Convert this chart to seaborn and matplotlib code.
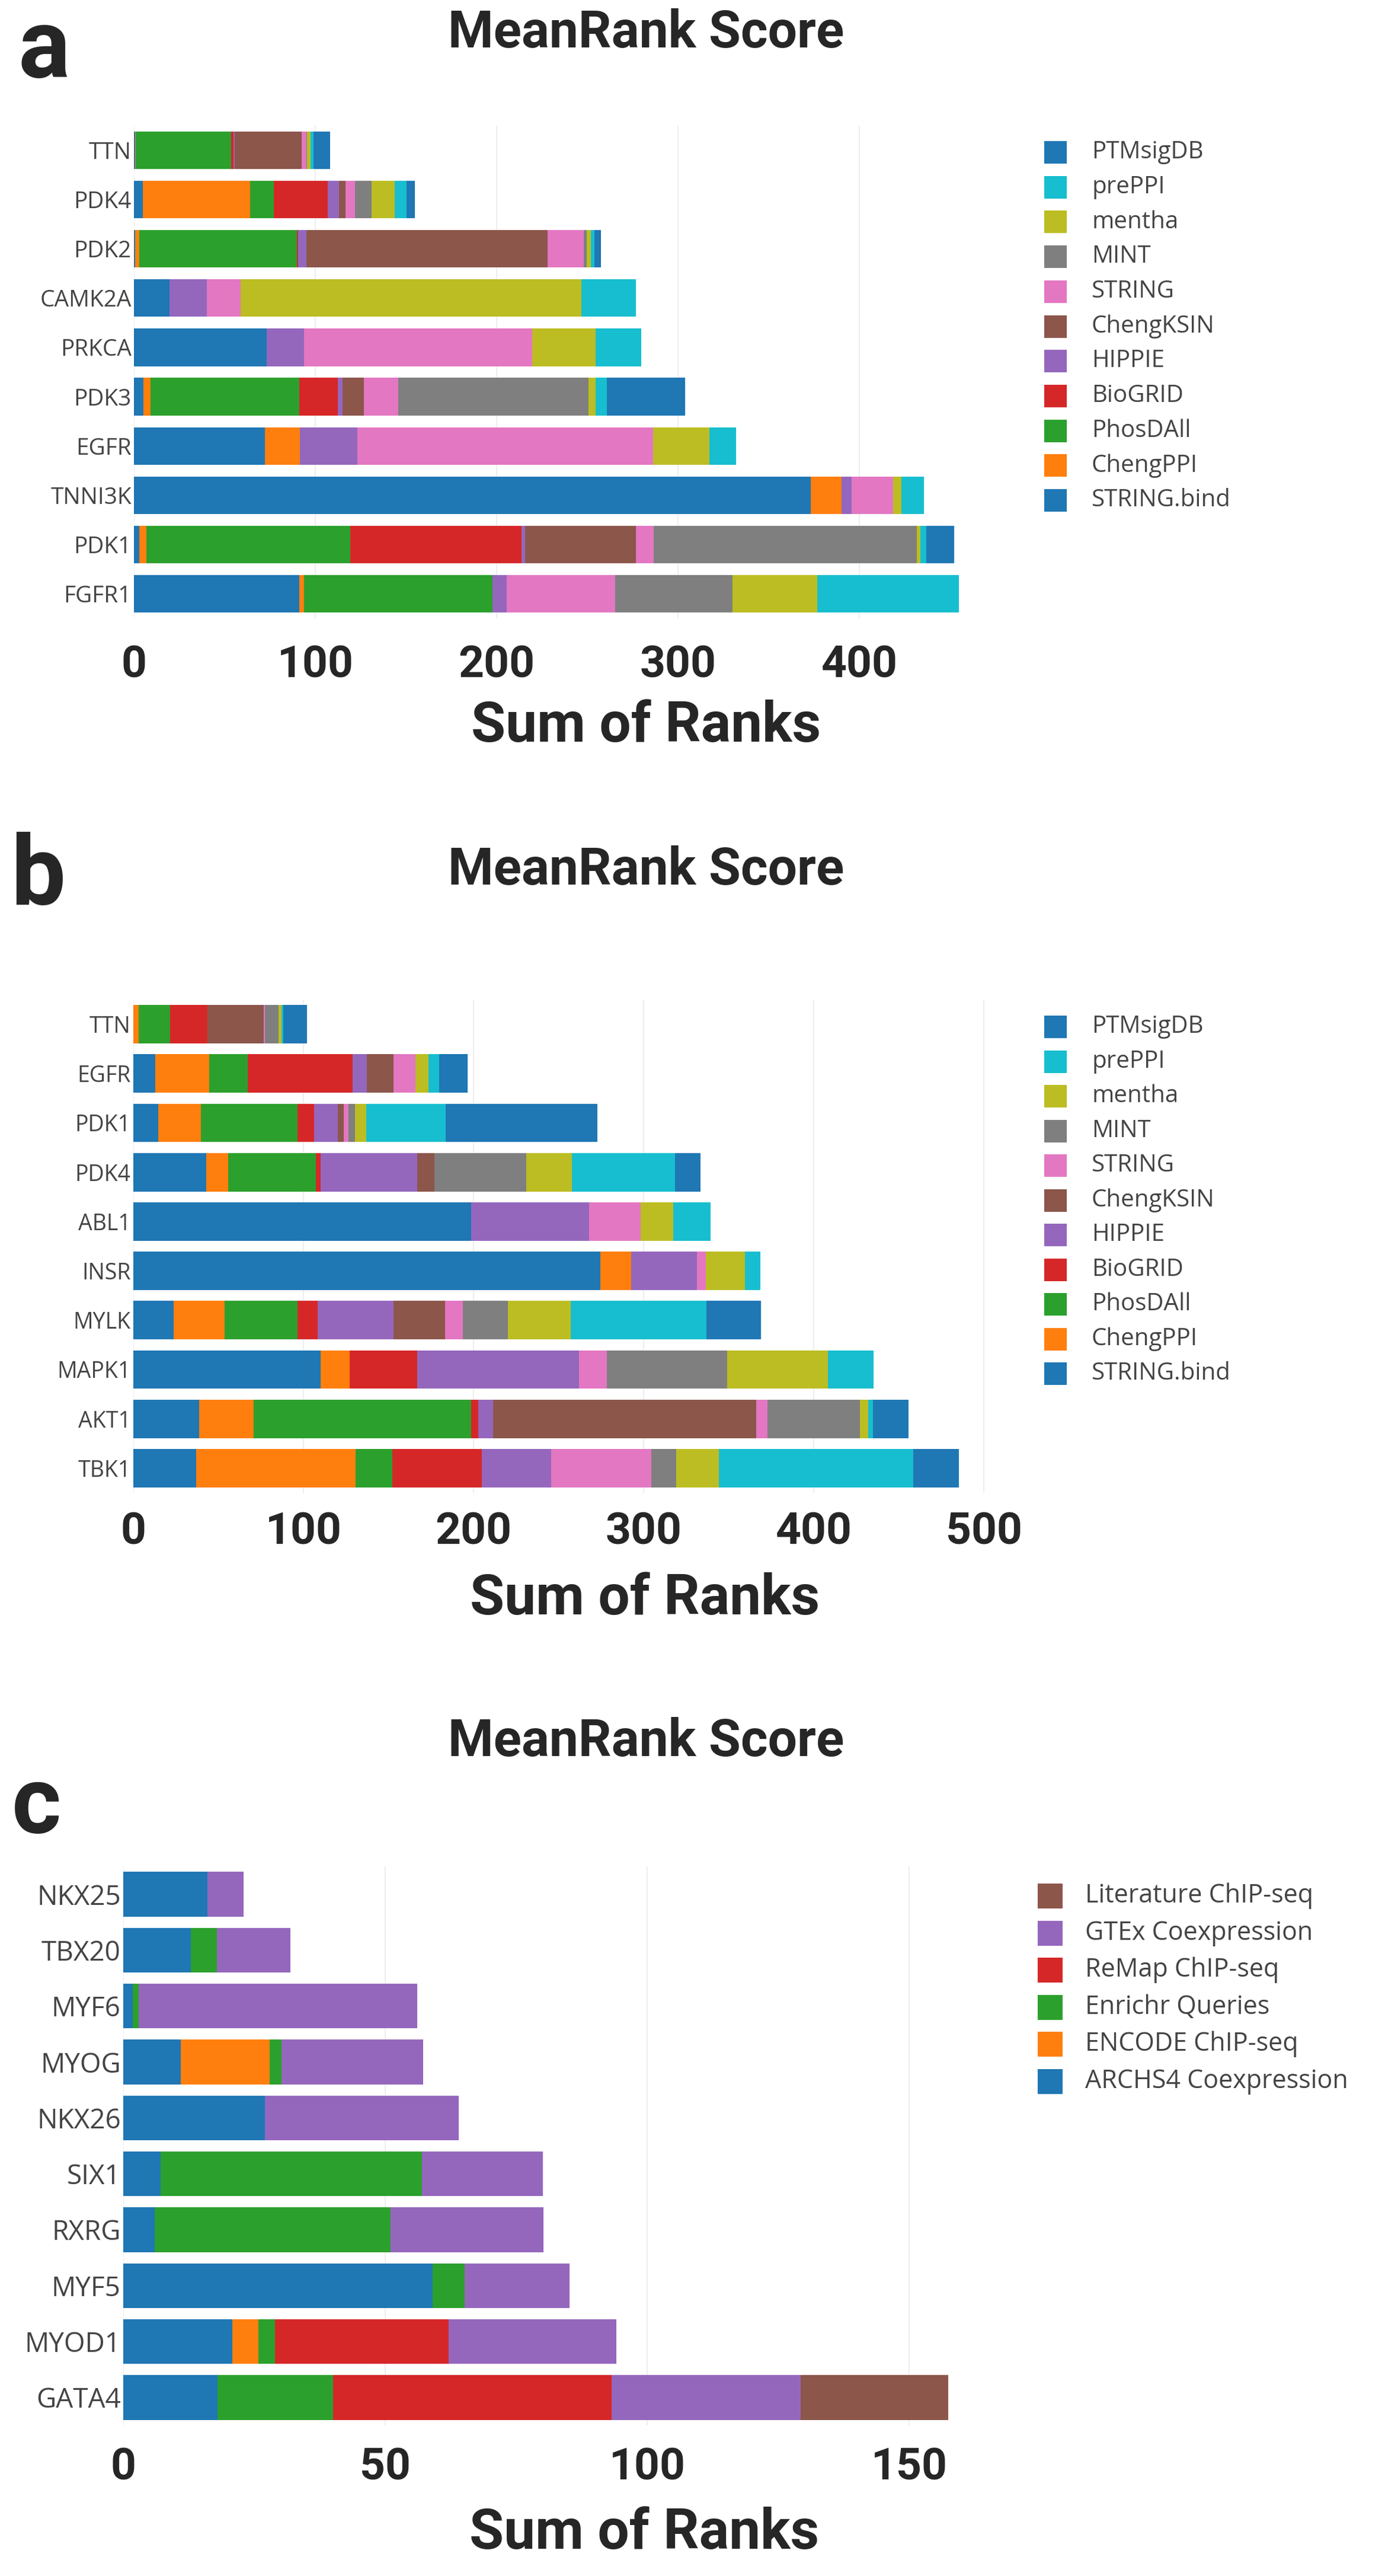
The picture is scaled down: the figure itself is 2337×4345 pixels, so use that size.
import numpy as np
import pandas as pd
import matplotlib
matplotlib.use("Agg")
import matplotlib.pyplot as plt
from matplotlib.patches import Rectangle
import seaborn as sns

# --- Data ---
# panel a / b share the same sources, listed in stacking order (left -> right)
ppi_sources = ['STRING.bind', 'ChengPPI', 'PhosDAll', 'BioGRID', 'HIPPIE',
               'ChengKSIN', 'STRING', 'MINT', 'mentha', 'prePPI', 'PTMsigDB']

a_genes = ['TTN', 'PDK4', 'PDK2', 'CAMK2A', 'PRKCA', 'PDK3', 'EGFR', 'TNNI3K', 'PDK1', 'FGFR1']
a_string_bind = [0.5, 5, 0.5, 19.6, 73.3, 5.2, 72.2, 373.2, 2.8, 91.2]
a_chengppi = [0.5, 59, 2.5, 0, 0, 4.1, 19.3, 16.9, 4.1, 2.7]
a_phosdall = [52.5, 13, 87, 0, 0, 81.9, 0, 0, 112.5, 103.9]
a_biogrid = [1.5, 30, 0.5, 0, 0, 21.3, 0, 0, 94.3, 0]
a_hippie = [0.5, 6, 4.5, 20.6, 20.6, 2.4, 31.6, 5.5, 2, 7.6]
a_chengksin = [37, 3.6, 133, 0, 0, 12, 0, 0, 61.2, 0]
a_string = [2.5, 5.4, 20, 18.6, 125.6, 18.9, 163, 23, 9.6, 59.9]
a_mint = [0.5, 9, 1.5, 0, 0, 104.9, 0, 0, 145.2, 64.7]
a_mentha = [2, 12.7, 2.5, 187.8, 35.1, 3.8, 31, 4.5, 2, 46.8]
a_preppi = [1.5, 6.6, 2, 30.3, 25.1, 6.2, 14.8, 12.4, 3, 78.1]
a_ptmsigdb = [9, 4.5, 3.5, 0, 0, 43.3, 0, 0, 15.5, 0]

b_genes = ['TTN', 'EGFR', 'PDK1', 'PDK4', 'ABL1', 'INSR', 'MYLK', 'MAPK1', 'AKT1', 'TBK1']
b_string_bind = [0, 12.8, 14.8, 42.8, 198.4, 274.6, 23.7, 110.1, 38.5, 37]
b_chengppi = [3, 31.9, 24.9, 12.8, 0, 17.9, 30, 17.1, 32.3, 93.7]
b_phosdall = [18.5, 22.6, 56.8, 51.7, 0, 0, 42.8, 0, 127.6, 21.4]
b_biogrid = [22, 61.5, 9.7, 2.7, 0, 0, 11.7, 39.7, 4.3, 52.9]
b_hippie = [0, 8.6, 14, 56.8, 69.6, 38.9, 44.7, 94.9, 8.9, 40.5]
b_chengksin = [33, 15.6, 3.5, 10.1, 0, 0, 30.3, 0, 154.4, 0]
b_string = [1, 12.8, 2.7, 0, 30.3, 5.1, 10.5, 16.7, 6.6, 59.1]
b_mint = [8, 0, 3.9, 54.1, 0, 0, 26.5, 70.4, 54.5, 14.4]
b_mentha = [1.5, 7.8, 6.6, 26.8, 19.1, 23, 37, 59.5, 5, 25.3]
b_preppi = [1, 6.2, 46.7, 60.7, 21.8, 8.9, 79.7, 26.8, 2.7, 114]
b_ptmsigdb = [14, 16.7, 89.1, 14.8, 0, 0, 31.9, 0, 21, 26.8]

tf_sources = ['ARCHS4 Coexpression', 'ENCODE ChIP-seq', 'Enrichr Queries',
              'ReMap ChIP-seq', 'GTEx Coexpression', 'Literature ChIP-seq']
c_genes = ['NKX25', 'TBX20', 'MYF6', 'MYOG', 'NKX26', 'SIX1', 'RXRG', 'MYF5', 'MYOD1', 'GATA4']
c_archs4 = [16.1, 12.9, 1.8, 11, 27, 7.1, 6, 59, 20.8, 18]
c_encode = [0, 0, 0, 16.9, 0, 0, 0, 0, 5, 0]
c_enrichr = [0, 5, 1.1, 2.3, 0, 49.9, 45, 6.1, 3.2, 22]
c_remap = [0, 0, 0, 0, 0, 0, 0, 0, 33.1, 53.2]
c_gtex = [6.9, 14, 53.2, 27, 37, 23.1, 29.2, 20.1, 32, 36.1]
c_literature = [0, 0, 0, 0, 0, 0, 0, 0, 0, 28.1]

a_ticks = [0, 100, 200, 300, 400]
b_ticks = [0, 100, 200, 300, 400, 500]
c_ticks = [0, 50, 100, 150]

# plotly default colour cycle
ppi_colors = ['#1f77b4', '#ff7f0e', '#2ca02c', '#d62728', '#9467bd', '#8c564b',
              '#e377c2', '#7f7f7f', '#bcbd22', '#17becf', '#1f77b4']
tf_colors = ['#1f77b4', '#ff7f0e', '#2ca02c', '#d62728', '#9467bd', '#8c564b']

# --- Figure setup ---
W, H = 2337, 4345
sns.set_style('white')
plt.rcParams['font.family'] = ['Open Sans', 'DejaVu Sans']

fig = plt.figure(figsize=(W / 100, H / 100), dpi=100)


def fx(px):
    return px / W


def fy(py):
    return 1 - py / H


def stacked_panel(rect, genes, df, colors, xmax, ticks, bar_w, ylab_size, tick_pad):
    left, top, right, bottom = rect
    ax = fig.add_axes([fx(left), fy(bottom), (right - left) / W, (bottom - top) / H])
    cum = df.cumsum(axis=1)
    # overlay cumulative totals from the longest to the shortest
    for col, color in reversed(list(zip(df.columns, colors))):
        sns.barplot(x=cum[col].values, y=genes, orient='h', color=color,
                    saturation=1, width=bar_w, errorbar=None, linewidth=0, ax=ax)
    ax.set_xlim(0, xmax)
    ax.set_xticks(ticks)
    ax.set_xticklabels([str(t) for t in ticks], fontfamily='Roboto',
                       fontweight='bold', fontsize=54)
    ax.tick_params(axis='x', length=0, pad=tick_pad)
    ax.tick_params(axis='y', length=0, pad=3, labelsize=ylab_size, labelcolor='#444444')
    ax.grid(axis='x', color='#eeeeee', linewidth=1.5)
    ax.set_axisbelow(True)
    for s in ax.spines.values():
        s.set_visible(False)
    ax.set_ylabel('')
    ax.set_xlabel('Sum of Ranks', fontfamily='Roboto', fontweight='bold', fontsize=68)
    return ax


def place_xlabel(ax, rect, cx, cy):
    left, top, right, bottom = rect
    ax.xaxis.set_label_coords((cx - left) / (right - left), (bottom - cy) / (bottom - top))
    ax.xaxis.label.set_va('center')


def draw_legend(labels, colors, x0, y0, step, size, fsize):
    for i, (lab, col) in enumerate(zip(labels, colors)):
        yc = y0 + i * step
        fig.add_artist(Rectangle((fx(x0), fy(yc + size / 2)), size / W, size / H,
                                 transform=fig.transFigure, color=col, lw=0))
        fig.text(fx(x0 + 80), fy(yc), lab, fontsize=fsize, color='#444444',
                 va='center', ha='left')


# --- Panel a ---
df_a = pd.DataFrame({
    'STRING.bind': a_string_bind, 'ChengPPI': a_chengppi, 'PhosDAll': a_phosdall,
    'BioGRID': a_biogrid, 'HIPPIE': a_hippie, 'ChengKSIN': a_chengksin,
    'STRING': a_string, 'MINT': a_mint, 'mentha': a_mentha,
    'prePPI': a_preppi, 'PTMsigDB': a_ptmsigdb}, index=a_genes)[ppi_sources]
rect_a = (226, 212, 1689, 1043)
ax_a = stacked_panel(rect_a, a_genes, df_a, ppi_colors, 478, a_ticks, 0.76, 28, 32)
place_xlabel(ax_a, rect_a, 1090, 1225)

# --- Panel b ---
df_b = pd.DataFrame({
    'STRING.bind': b_string_bind, 'ChengPPI': b_chengppi, 'PhosDAll': b_phosdall,
    'BioGRID': b_biogrid, 'HIPPIE': b_hippie, 'ChengKSIN': b_chengksin,
    'STRING': b_string, 'MINT': b_mint, 'mentha': b_mentha,
    'prePPI': b_preppi, 'PTMsigDB': b_ptmsigdb}, index=b_genes)[ppi_sources]
rect_b = (225, 1686, 1689, 2518)
ax_b = stacked_panel(rect_b, b_genes, df_b, ppi_colors, 510, b_ticks, 0.78, 27, 23)
place_xlabel(ax_b, rect_b, 1088, 2697)

# --- Panel c ---
df_c = pd.DataFrame({
    'ARCHS4 Coexpression': c_archs4, 'ENCODE ChIP-seq': c_encode,
    'Enrichr Queries': c_enrichr, 'ReMap ChIP-seq': c_remap,
    'GTEx Coexpression': c_gtex, 'Literature ChIP-seq': c_literature},
    index=c_genes)[tf_sources]
rect_c = (208, 3148, 1689, 4091)
ax_c = stacked_panel(rect_c, c_genes, df_c, tf_colors, 167.5, c_ticks, 0.8, 33, 26)
place_xlabel(ax_c, rect_c, 1087, 4273)

# --- Titles, panel letters, legends ---
for yc in (56, 1468, 2938):
    fig.text(fx(1090), fy(yc), 'MeanRank Score', ha='center', va='center',
             fontfamily='Roboto', fontweight='bold', fontsize=63)

for letter, x0, yb, size in (('a', 30, 130, 118), ('b', 18, 1525, 118), ('c', 20, 3091, 115)):
    fig.text(fx(x0), fy(yb), letter, ha='left', va='baseline',
             fontfamily='Roboto', fontweight='bold', fontsize=size)

ppi_legend = ppi_sources[::-1]
ppi_legend_colors = ppi_colors[::-1]
draw_legend(ppi_legend, ppi_legend_colors, 1762, 257, 58.7, 38, 29)
draw_legend(ppi_legend, ppi_legend_colors, 1762, 1732, 58.5, 38, 29)
draw_legend(tf_sources[::-1], tf_colors[::-1], 1751, 3198, 62.5, 42, 31)

fig.savefig('out.png', dpi=100, facecolor='white')
